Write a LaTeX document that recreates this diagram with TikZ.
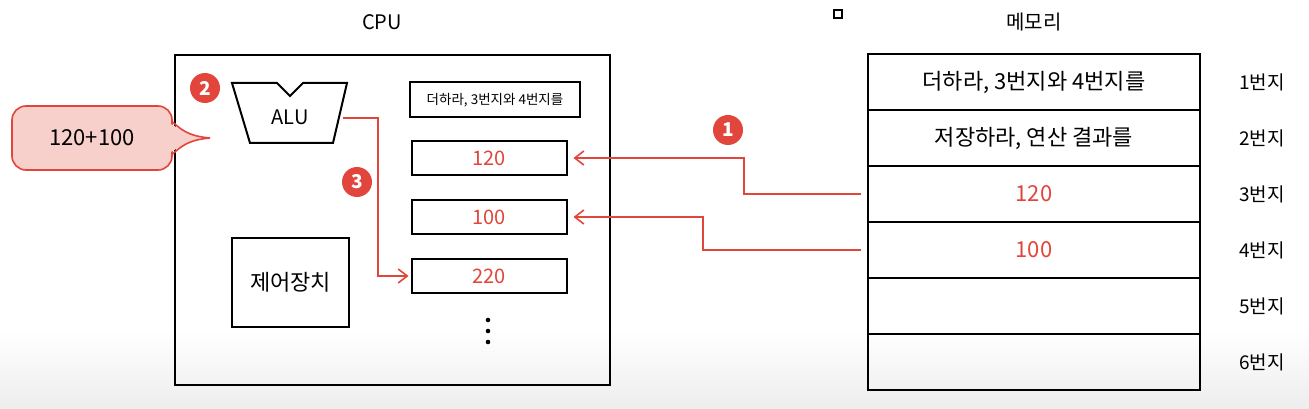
\documentclass[tikz,border=0pt]{standalone}
\usepackage{fontspec}
\setmainfont{Noto Sans CJK KR}
\usepackage{tikz}
\usetikzlibrary{calc, positioning, arrows.meta}
\definecolor{memred}{HTML}{E2453B}
\definecolor{bubble}{HTML}{F7CFCB}
\tikzset{
  box/.style={draw, line width=2pt, inner sep=0pt},
  reg/.style={box, minimum width=155pt, minimum height=34pt, text=memred, font=\fontsize{20}{20}\selectfont},
  cell/.style={box, minimum width=332pt, minimum height=56pt, font=\fontsize{22}{22}\selectfont},
  addr/.style={font=\fontsize{19}{19}\selectfont},
  wire/.style={draw=memred, line width=1.6pt},
  tip/.style={-{Straight Barb[length=9pt, width=14pt, line width=1.6pt]}},
  step mark/.style={circle, fill=memred, text=white, inner sep=0pt, minimum size=30pt, font=\fontsize{19}{19}\selectfont\bfseries}
}
\begin{document}
\begin{tikzpicture}[x=1pt, y=-1pt]
\fill[white] (0,0) rectangle (1309,409);
\useasboundingbox (0,0) rectangle (1309,409);
\shade[top color=white, bottom color=black!7] (0,330) rectangle (1309,409);
\draw[line width=1.2pt] (834,10) rectangle (842,18);

% CPU
\node[font=\fontsize{20}{20}\selectfont] (cpulabel) at (382,22) {CPU};
\node[box, minimum width=435pt, minimum height=330pt] (cpu) at (392.5,220) {};

\node[box, minimum width=170pt, minimum height=35pt, font=\fontsize{13.5}{13.5}\selectfont] (instr) at (495,100) {더하라, 3번지와 4번지를};
\node[reg] (r1) at (489,158) {120};
\node[reg] (r2) at (489,217) {100};
\node[reg] (r3) at (489,276) {220};
\foreach \y in {320,331,342} \fill (488,\y) circle (2.3pt);

\node[box, minimum width=117pt, minimum height=89pt, font=\fontsize{22}{22}\selectfont] (ctrl) at (290.5,282.5) {제어장치};

% ALU
\coordinate (alutl) at (232,83);
\coordinate (alutr) at (347,83);
\coordinate (alubr) at (333,143);
\coordinate (alubl) at (250,143);
\draw[line width=2pt, line join=miter] (alutl) -- (277,83) -- (290,96) -- (303,83) -- (alutr) -- (alubr) -- (alubl) -- cycle;
\node[font=\fontsize{20}{20}\selectfont] (alu) at (290,117) {ALU};
\coordinate (aluout) at (343,118);

% bubble with its pointer
\node[draw=memred, fill=bubble, line width=1.6pt, rounded corners=14pt,
  minimum width=160pt, minimum height=64pt, font=\fontsize{22}{22}\selectfont] (sum) at (92,138) {120+100};
\coordinate (sumtip) at (210,138);
\fill[bubble] ($(sum.east)+(-2,-14)$) to[out=-30,in=175] (sumtip) to[out=185,in=30] ($(sum.east)+(-2,14)$) -- cycle;
\draw[memred, line width=1.6pt] ($(sum.east)+(0,-16)$) to[out=-45,in=175] (sumtip) to[out=185,in=45] ($(sum.east)+(0,16)$);

% memory
\node[font=\fontsize{20}{20}\selectfont] (memlabel) at (1034,22) {메모리};
\node[cell] (m1) at (1034,82) {더하라, 3번지와 4번지를};
\node[cell] (m2) at (1034,138) {저장하라, 연산 결과를};
\node[cell, text=memred] (m3) at (1034,194) {120};
\node[cell, text=memred] (m4) at (1034,250) {100};
\node[cell] (m5) at (1034,306) {};
\node[cell] (m6) at (1034,362) {};
\node[addr] (a1) at (1262,82) {1번지};
\node[addr] (a2) at (1262,138) {2번지};
\node[addr] (a3) at (1262,194) {3번지};
\node[addr] (a4) at (1262,250) {4번지};
\node[addr] (a5) at (1262,306) {5번지};
\node[addr] (a6) at (1262,362) {6번지};

% data flow
\draw[wire, tip, shorten <=6pt, shorten >=6pt] (m3.west) -- ++(-123,0) |- (r1.east);
\draw[wire, tip, shorten <=6pt, shorten >=6pt] (m4.west) -- ++(-164,0) |- (r2.east);
\draw[wire, tip, shorten >=2pt] (aluout) -- ++(35,0) |- (r3.west);

\node[step mark] (s1) at (728,130) {1};
\node[step mark] (s2) at (205,88) {2};
\node[step mark] (s3) at (357,182) {3};
\end{tikzpicture}
\end{document}
